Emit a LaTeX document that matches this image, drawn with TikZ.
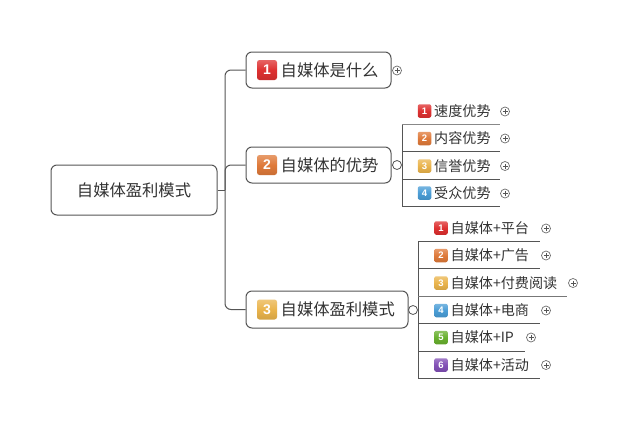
\documentclass[tikz,border=0pt]{standalone}
\usepackage{fontspec}
\setmainfont{Noto Sans CJK SC}[UprightFeatures={},BoldFont={Liberation Sans Bold}]
\newfontfamily\badgefont{Liberation Sans}[BoldFont={Liberation Sans Bold}]
\definecolor{lnc}{HTML}{555555}
\definecolor{txc}{HTML}{333333}
\definecolor{bRed}{HTML}{DE3030}
\definecolor{bOrg}{HTML}{DF7A3A}
\definecolor{bYel}{HTML}{EAB44C}
\definecolor{bBlu}{HTML}{4A9DD6}
\definecolor{bGrn}{HTML}{68B02E}
\definecolor{bPur}{HTML}{8250B6}
\tikzset{
  topicbox/.style={draw=lnc,line width=1pt,fill=white,rounded corners=6pt,inner sep=0pt,text=txc},
  big/.style={font=\fontsize{16.3}{16.3}\selectfont,text=txc,inner sep=0pt,anchor=west},
  small/.style={font=\fontsize{14.1}{14.1}\selectfont,text=txc,inner sep=0pt,anchor=west},
  badgebig/.style={rounded corners=2.5pt,minimum size=20pt,inner sep=0pt,text=white,font=\badgefont\bfseries\fontsize{14}{14}\selectfont},
  badgesmall/.style={rounded corners=2pt,minimum size=13.5pt,inner sep=0pt,text=white,font=\badgefont\bfseries\fontsize{9.5}{9.5}\selectfont},
  bc/.style={top color=#1!75!white,bottom color=#1!90!black,middle color=#1},
  opencirc/.style={draw=lnc,line width=.8pt,fill=white,circle,minimum size=9pt,inner sep=0pt},
  pluscirc/.style={draw=lnc!85,line width=.7pt,fill=white,circle,minimum size=9pt,inner sep=0pt,
    path picture={\draw[lnc,line width=.7pt] (path picture bounding box.center) ++(-2.5pt,0)--++(5pt,0) (path picture bounding box.center) ++(0,-2.5pt)--++(0,5pt);}},
  conn/.style={draw=lnc,line width=1pt},
  under/.style={draw=lnc,line width=1pt}
}
\begin{document}
\begin{tikzpicture}[x=1pt,y=-1pt]
\useasboundingbox[fill=white] (0,0) rectangle (640,429);
% topics
\node[topicbox,minimum width=166pt,minimum height=50pt] (root) at (134,190) {};
\node[font=\fontsize{16.3}{16.3}\selectfont,text=txc,inner sep=0pt] (roott) at (134,190) {自媒体盈利模式};
\node[topicbox,minimum width=145pt,minimum height=36pt] (b1) at (318.5,70) {};
\node[topicbox,minimum width=145pt,minimum height=36pt] (b2) at (318.5,165) {};
\node[topicbox,minimum width=162pt,minimum height=37pt] (b3) at (327,309.5) {};
\node[badgebig,bc=bRed] (b1i) at (267,70) {1};
\node[badgebig,bc=bOrg] (b2i) at (267,165) {2};
\node[badgebig,bc=bYel] (b3i) at (267,309.5) {3};
\node[big] (b1t) at (280.5,70) {自媒体是什么};
\node[big] (b2t) at (280.5,165) {自媒体的优势};
\node[big] (b3t) at (280.5,309.5) {自媒体盈利模式};
% trunk
\coordinate (tr) at (225,190);
\draw[conn] (root.east) -- (tr);
\draw[conn,rounded corners=6pt] (b1.west) -| (tr);
\draw[conn,rounded corners=6pt] (b2.west) -| (tr);
\draw[conn,rounded corners=6pt] (b3.west) -| (tr);
% collapse markers
\node[pluscirc] (b1p) at (397,70.5) {};
\node[opencirc] (b2c) at (397,165) {};
\node[opencirc] (b3c) at (413,310) {};
\draw[conn] (b2.east) -- (b2c);
\draw[conn] (b3.east) -- (b3c);
% branch 2 subtopics
\coordinate (sa1) at (402,124); \coordinate (sa2) at (402,151.5); \coordinate (sa3) at (402,179); \coordinate (sa4) at (402,206);
\coordinate (ea1) at (500,124); \coordinate (ea2) at (500,151.5); \coordinate (ea3) at (500,179); \coordinate (ea4) at (500,206);
\draw[conn] (b2c.east) -- (402,165);
\draw[conn] (sa1) -- (sa4);
\draw[under,draw=lnc!70] (sa1) -- (ea1);
\draw[under] (sa2) -- (ea2);
\draw[under] (sa3) -- (ea3);
\draw[under] (sa4) -- (ea4);
\node[badgesmall,bc=bRed] (a1i) at (424.5,111) {1};
\node[badgesmall,bc=bOrg] (a2i) at (424.5,138.5) {2};
\node[badgesmall,bc=bYel] (a3i) at (424.5,166) {3};
\node[badgesmall,bc=bBlu] (a4i) at (424.5,193) {4};
\node[small] (a1t) at (434,111) {速度优势};
\node[small] (a2t) at (434,138.5) {内容优势};
\node[small] (a3t) at (434,166) {信誉优势};
\node[small] (a4t) at (434,193) {受众优势};
\node[pluscirc] (a1p) at (505,111.5) {};
\node[pluscirc] (a2p) at (505,138.5) {};
\node[pluscirc] (a3p) at (505,166) {};
\node[pluscirc] (a4p) at (505,193.5) {};
% branch 3 subtopics
\coordinate (sc1) at (418,241.5); \coordinate (sc2) at (418,268.5); \coordinate (sc3) at (418,296); \coordinate (sc4) at (418,323.5); \coordinate (sc5) at (418,351); \coordinate (sc6) at (418,378);
\coordinate (ec1) at (540,241.5); \coordinate (ec2) at (540,268.5); \coordinate (ec3) at (567,296); \coordinate (ec4) at (540,323.5); \coordinate (ec5) at (525,351); \coordinate (ec6) at (540,378);
\draw[conn] (b3c.east) -- (418,310);
\draw[conn] (sc1) -- (sc6);
\draw[under] (sc1) -- (ec1);
\draw[under] (sc2) -- (ec2);
\draw[under,draw=lnc!80] (sc3) -- (ec3);
\draw[under] (sc4) -- (ec4);
\draw[under] (sc5) -- (ec5);
\draw[under] (sc6) -- (ec6);
\node[badgesmall,bc=bRed] (c1i) at (441,228) {1};
\node[badgesmall,bc=bOrg] (c2i) at (441,255.5) {2};
\node[badgesmall,bc=bYel] (c3i) at (441,283) {3};
\node[badgesmall,bc=bBlu] (c4i) at (441,310.5) {4};
\node[badgesmall,bc=bGrn] (c5i) at (441,337.5) {5};
\node[badgesmall,bc=bPur] (c6i) at (441,365) {6};
\node[small] (c1t) at (450.5,228) {自媒体+平台};
\node[small] (c2t) at (450.5,255.5) {自媒体+广告};
\node[small] (c3t) at (450.5,283) {自媒体+付费阅读};
\node[small] (c4t) at (450.5,310.5) {自媒体+电商};
\node[small] (c5t) at (450.5,337.5) {自媒体+IP};
\node[small] (c6t) at (450.5,365) {自媒体+活动};
\node[pluscirc] (c1p) at (546,228.5) {};
\node[pluscirc] (c2p) at (546,255.5) {};
\node[pluscirc] (c3p) at (573,283) {};
\node[pluscirc] (c4p) at (546,310.5) {};
\node[pluscirc] (c5p) at (531,337.5) {};
\node[pluscirc] (c6p) at (546,365) {};
\end{tikzpicture}
\end{document}
